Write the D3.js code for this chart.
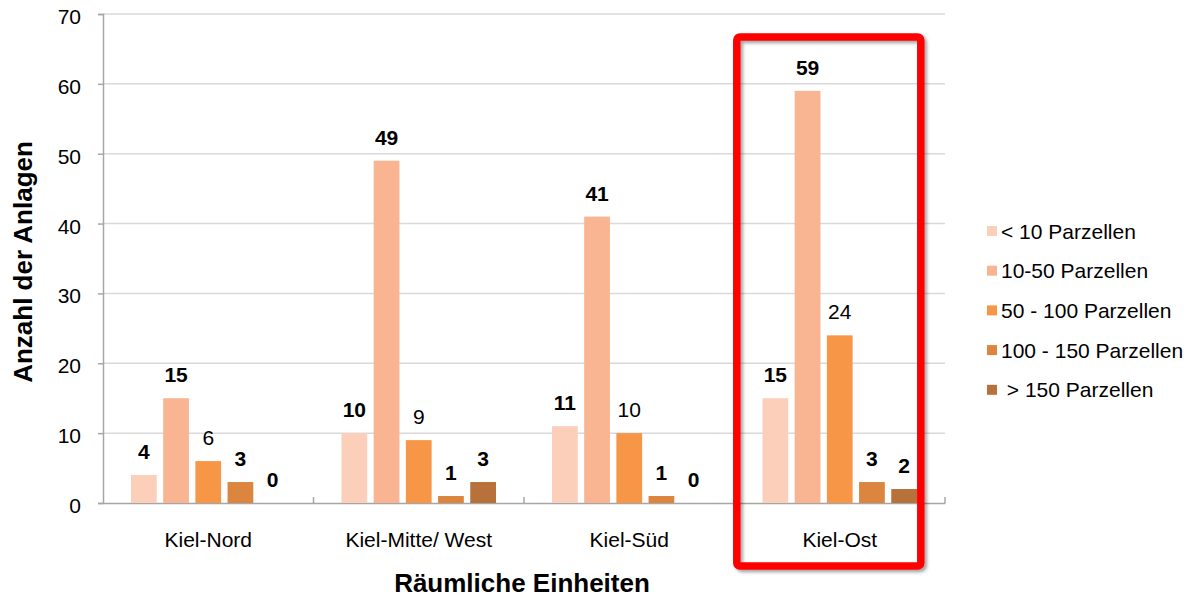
<!DOCTYPE html>
<html>
<head>
<meta charset="utf-8">
<script src="https://cdn.jsdelivr.net/npm/d3@7"></script>
<style>
  html, body { margin: 0; padding: 0; background: #fff; }
  svg { display: block; font-family: "Liberation Sans", Arial, sans-serif; }
</style>
</head>
<body>
<svg id="chart" width="1188" height="599"></svg>
<script>
const categories = ["Kiel-Nord", "Kiel-Mitte/ West", "Kiel-Süd", "Kiel-Ost"];
const seriesNames = ["< 10 Parzellen", "10-50 Parzellen", "50 - 100 Parzellen", "100 - 150 Parzellen", "\u00a0> 150 Parzellen"];
const seriesLt10 = [4, 10, 11, 15];
const series10to50 = [15, 49, 41, 59];
const series50to100 = [6, 9, 10, 24];
const series100to150 = [3, 1, 1, 3];
const seriesGt150 = [0, 3, 0, 2];
const yTicks = [0, 10, 20, 30, 40, 50, 60, 70];
const colors = ["#FBCFBA", "#F9B591", "#F79646", "#DC853E", "#B8713A"];
const highlighted = "Kiel-Ost";

const seriesValues = [seriesLt10, series10to50, series50to100, series100to150, seriesGt150];

const svg = d3.select("#chart");
const pLeft = 103, pRight = 945, pTop = 14, pBottom = 503;

const defs = svg.append("defs");
const f = defs.append("filter").attr("id", "shadow").attr("x", "-10%").attr("y", "-10%").attr("width", "120%").attr("height", "120%");
f.append("feDropShadow").attr("dx", 2.5).attr("dy", 2.5).attr("stdDeviation", 1.5).attr("flood-color", "#000").attr("flood-opacity", 0.35);

const x0 = d3.scaleBand().domain(categories).range([pLeft, pRight]).paddingInner(0).paddingOuter(0);
const bw = x0.bandwidth();
const x1 = d3.scaleBand().domain(d3.range(seriesNames.length)).range([bw * 0.133, bw * 0.867]).paddingInner(0.2).paddingOuter(0);
const y = d3.scaleLinear().domain([0, 70]).range([pBottom, pTop]);

// gridlines
svg.append("g").selectAll("line").data(yTicks.filter(t => t > 0)).join("line")
  .attr("x1", pLeft).attr("x2", pRight)
  .attr("y1", d => y(d)).attr("y2", d => y(d))
  .attr("stroke", "#d9d9d9").attr("stroke-width", 1.5);

// y axis
const yAxis = svg.append("g").attr("transform", `translate(${pLeft},0)`)
  .call(d3.axisLeft(y).tickValues(yTicks).tickSize(5).tickPadding(17));
yAxis.select(".domain").attr("stroke", "#a6a6a6").attr("stroke-width", 1.5);
yAxis.selectAll(".tick line").attr("stroke", "#a6a6a6").attr("stroke-width", 1.5);
yAxis.selectAll(".tick text").attr("font-size", 21).attr("fill", "#000")
  .attr("font-family", "'Liberation Sans', Arial, sans-serif").attr("dy", "0.45em");

// x axis
const xAxis = svg.append("g").attr("transform", `translate(0,${pBottom})`)
  .call(d3.axisBottom(x0).tickSize(0).tickPadding(29));
xAxis.select(".domain").attr("stroke", "#a6a6a6").attr("stroke-width", 1.5);
xAxis.selectAll(".tick text").attr("font-size", 21).attr("fill", "#000")
  .attr("font-family", "'Liberation Sans', Arial, sans-serif");
// category separator ticks (inside)
const seps = categories.map(c => x0(c)).slice(1).concat([pRight]);
svg.append("g").selectAll("line").data(seps).join("line")
  .attr("x1", d => d).attr("x2", d => d)
  .attr("y1", pBottom).attr("y2", pBottom - 6)
  .attr("stroke", "#a6a6a6").attr("stroke-width", 1.5);

// bars
const groups = svg.append("g").selectAll("g").data(categories).join("g")
  .attr("transform", c => `translate(${x0(c)},0)`);
groups.each(function (c, ci) {
  const g = d3.select(this);
  seriesValues.forEach((vals, si) => {
    const v = vals[ci];
    g.append("rect")
      .attr("x", x1(si)).attr("width", x1.bandwidth())
      .attr("y", y(v)).attr("height", pBottom - y(v))
      .attr("fill", colors[si]);
    g.append("text")
      .attr("x", x1(si) + x1.bandwidth() / 2)
      .attr("y", y(v) - 16)
      .attr("text-anchor", "middle")
      .attr("font-size", 21)
      .attr("font-weight", si === 2 ? "normal" : "bold")
      .attr("fill", "#000")
      .text(v);
  });
});

// axis titles
svg.append("text").attr("x", 522).attr("y", 592)
  .attr("text-anchor", "middle").attr("font-size", 26).attr("font-weight", "bold")
  .text("Räumliche Einheiten");
svg.append("text").attr("transform", "translate(32,262) rotate(-90)")
  .attr("text-anchor", "middle").attr("font-size", 26).attr("font-weight", "bold")
  .text("Anzahl der Anlagen");

// legend
const legend = svg.append("g").selectAll("g").data(seriesNames).join("g")
  .attr("transform", (d, i) => `translate(987,${231 + i * 39.7})`);
legend.append("rect").attr("x", 0).attr("y", -5).attr("width", 10).attr("height", 10)
  .attr("fill", (d, i) => colors[i]);
legend.append("text").attr("x", 14).attr("y", 0).attr("dy", "0.36em")
  .attr("font-size", 21).attr("fill", "#000").style("white-space", "pre")
  .text(d => d);

// highlight box
const hx = x0(highlighted);
svg.append("rect")
  .attr("x", hx + 2.3).attr("y", 37)
  .attr("width", 184).attr("height", 529)
  .attr("rx", 3).attr("ry", 3)
  .attr("fill", "none").attr("stroke", "#ff0000").attr("stroke-width", 7.5)
  .attr("filter", "url(#shadow)");
</script>
</body>
</html>
